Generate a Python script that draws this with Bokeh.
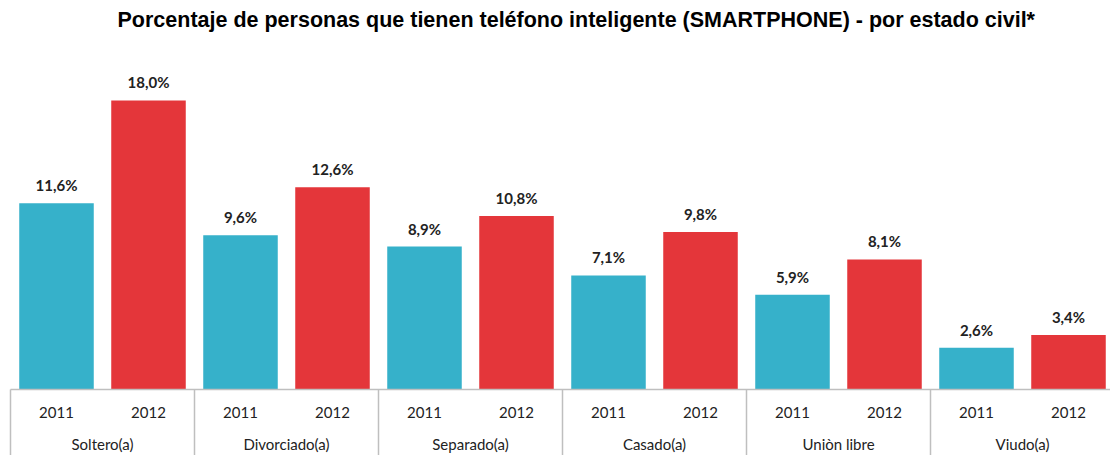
from bokeh.plotting import figure
from bokeh.models import Range1d, ColumnDataSource
from bokeh.core.properties import value
from bokeh.embed import file_html
from bokeh.resources import INLINE

groups = ["Soltero(a)", "Divorciado(a)", "Separado(a)", "Casado(a)", "Uniòn libre", "Viudo(a)"]
years = ["2011", "2012"]
v2011 = [11.6, 9.6, 8.9, 7.1, 5.9, 2.6]
v2012 = [18.0, 12.6, 10.8, 9.8, 8.1, 3.4]
title = "Porcentaje de personas que tienen teléfono inteligente (SMARTPHONE) - por estado civil*"

year_colors = ["#36B1CA", "#E4363A"]

W, H = 1110, 455
PX = 92.0          # pixels per slot
S = 16.06          # pixels per percent
FRAME_TOP = 36     # y of frame top (below title panel, estimate)
BASE = 389         # y of baseline

xs, tops, cols, labs, yl = [], [], [], [], []
for g, grp in enumerate(groups):
    for j, (yr, vals) in enumerate(zip(years, [v2011, v2012])):
        xs.append(2 * g + j + 0.5)
        tops.append(vals[g])
        cols.append(year_colors[j])
        labs.append(f"{vals[g]:.1f}%".replace(".", ","))
        yl.append(yr)
src = ColumnDataSource(dict(x=xs, top=tops, color=cols, lab=labs, yr=yl, zero=[0] * len(xs)))

gsrc = ColumnDataSource(dict(x=[2 * g + 1 for g in range(len(groups))], name=groups,
                             zero=[0] * len(groups)))
seps = [2 * g for g in range(len(groups) + 1)]

p = figure(width=W, height=H, output_backend="svg", toolbar_location=None,
           x_range=Range1d(-10 / PX, (W - 10) / PX),
           y_range=Range1d(-(H - BASE) / S, (BASE - FRAME_TOP) / S),
           min_border=0, outline_line_color=None)
p.xaxis.visible = False
p.yaxis.visible = False
p.xgrid.visible = False
p.ygrid.visible = False

p.title.text = title
p.title.text_font = "Liberation Sans"
p.title.text_font_size = "21.5px"
p.title.text_font_style = "bold"
p.title.text_color = "#000000"
p.title.align = "left"
p.title.offset = 117

p.vbar(x="x", top="top", bottom=0, width=0.81, color="color", source=src, line_color=None)

p.segment(x0=[0], x1=[2 * len(groups)], y0=[0], y1=[0], line_color="#BFBFBF", line_width=1.5)
p.segment(x0=seps, x1=seps, y0=[0] * len(seps), y1=[-20] * len(seps),
          line_color="#BFBFBF", line_width=1.5)

p.text(x="x", y="top", text="lab", source=src, text_align="center", text_baseline="bottom",
       y_offset=-9, text_font=value("Lato"), text_font_size="15px", text_font_style="bold",
       text_color="#222222")
p.text(x="x", y="zero", text="yr", source=src, text_align="center", text_baseline="middle",
       y_offset=23, text_font=value("Lato"), text_font_size="15px", text_color="#222222")
p.text(x="x", y="zero", text="name", source=gsrc, text_align="center", text_baseline="middle",
       y_offset=54, text_font=value("Lato"), text_font_size="15px", text_color="#222222")

open("out.html", "w").write(file_html(p, INLINE))
